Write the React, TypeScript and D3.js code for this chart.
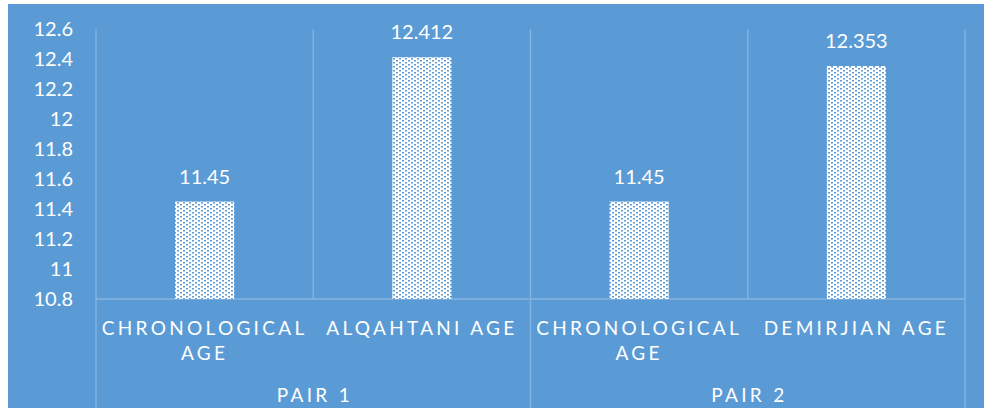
import React from "react";
import * as d3 from "d3";

// Paired comparison of chronological age against two dental age estimates
const pairNames = ["PAIR 1", "PAIR 2"];
const categoryLines = [
  ["CHRONOLOGICAL", "AGE"],
  ["ALQAHTANI AGE"],
  ["CHRONOLOGICAL", "AGE"],
  ["DEMIRJIAN AGE"],
];
const categoryPair = [0, 0, 1, 1];
const ageValues = [11.45, 12.412, 11.45, 12.353];
const valueLabels = ["11.45", "12.412", "11.45", "12.353"];
const yDomain = [10.8, 12.6];

const W = 984;
const H = 408;
const BG = "#5B9BD5";
const LINE = "#84B4E2";
const FONT = "Lato, 'Open Sans', sans-serif";

// staggered dot cells inside a 6x4 fill tile
const dotCells = [
  [0, 0],
  [3, 2],
];

export default function App() {
  const plot = { left: 96, right: 965, top: 29, bottom: 299 };

  const y = d3.scaleLinear().domain(yDomain).range([plot.bottom, plot.top]);
  const x = d3
    .scaleBand<number>()
    .domain(ageValues.map((_, i) => i))
    .range([plot.left, plot.right])
    .paddingInner(0)
    .paddingOuter(0);

  // pair extents follow the categories that belong to each pair
  const pairSpans = pairNames.map((_, p) => {
    const idx = categoryPair.map((c, i) => (c === p ? i : -1)).filter((i) => i >= 0);
    const x0 = x(idx[0])!;
    const x1 = x(idx[idx.length - 1])! + x.bandwidth();
    return [x0, x1];
  });

  const barW = x.bandwidth() * 0.272;
  const ticks = d3.ticks(yDomain[0], yDomain[1], 9);

  return (
    <svg
      width={W}
      height={H}
      style={{ position: "absolute", left: 0, top: 0, background: "#fff" }}
      fontFamily={FONT}
    >
      <defs>
        <pattern id="dots" width="6" height="4" patternUnits="userSpaceOnUse">
          <rect width="6" height="4" fill="#fff" />
          {dotCells.map(([cx, cy], k) => (
            <rect key={k} x={cx} y={cy} width={2} height={1.5} fill={BG} />
          ))}
        </pattern>
      </defs>

      <rect x={8} y={4} width={W - 8} height={H - 4} fill={BG} />

      {/* y axis tick labels */}
      {ticks.map((t) => (
        <text
          key={t}
          x={73}
          y={y(t)}
          dy="0.36em"
          textAnchor="end"
          fontSize={20}
          fill="#fff"
        >
          {String(+t.toFixed(1))}
        </text>
      ))}

      {/* category separators inside the plot */}
      {d3.range(ageValues.length + 1).map((i) => {
        const xx = i < ageValues.length ? x(i)! : plot.right;
        return (
          <line
            key={"v" + i}
            x1={xx}
            x2={xx}
            y1={plot.top}
            y2={plot.bottom}
            stroke={LINE}
            strokeWidth={1.3}
          />
        );
      })}

      {/* pair separators through the axis area */}
      {pairSpans.flatMap(([a, b], i) => [
        <line key={"ga" + i} x1={a} x2={a} y1={plot.bottom} y2={H} stroke={LINE} strokeWidth={1.3} />,
        <line key={"gb" + i} x1={b} x2={b} y1={plot.bottom} y2={H} stroke={LINE} strokeWidth={1.3} />,
      ])}

      <line
        x1={plot.left}
        x2={plot.right}
        y1={plot.bottom}
        y2={plot.bottom}
        stroke={LINE}
        strokeWidth={1.3}
      />

      {/* bars */}
      {ageValues.map((v, i) => {
        const cx = x(i)! + x.bandwidth() / 2;
        return (
          <g key={"b" + i}>
            <rect
              x={cx - barW / 2}
              y={y(v)}
              width={barW}
              height={plot.bottom - y(v)}
              fill="url(#dots)"
            />
            <text
              x={cx}
              y={y(v) - 18}
              textAnchor="middle"
              fontSize={20}
              fill="#fff"
            >
              {valueLabels[i]}
            </text>
          </g>
        );
      })}

      {/* category labels */}
      {categoryLines.map((lines, i) => {
        const cx = x(i)! + x.bandwidth() / 2;
        return (
          <text
            key={"c" + i}
            textAnchor="middle"
            fontSize={19}
            fill="#fff"
            letterSpacing={3.3}
          >
            {lines.map((ln, j) => (
              <tspan key={j} x={cx} y={335 + j * 25}>
                {ln}
              </tspan>
            ))}
          </text>
        );
      })}

      {/* pair labels */}
      {pairNames.map((p, i) => (
        <text
          key={"p" + i}
          x={(pairSpans[i][0] + pairSpans[i][1]) / 2 + 1.6}
          y={401.5}
          textAnchor="middle"
          fontSize={19}
          fill="#fff"
          letterSpacing={3.3}
        >
          {p}
        </text>
      ))}
    </svg>
  );
}
